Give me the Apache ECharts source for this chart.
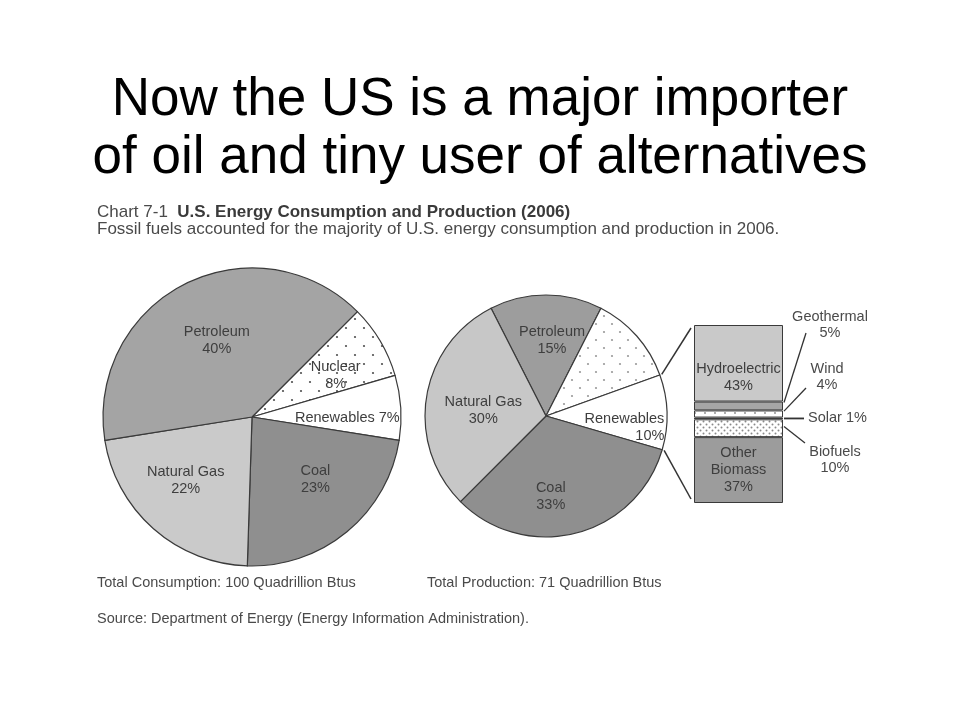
<!DOCTYPE html>
<html>
<head>
<meta charset="utf-8">
<script src="https://cdn.jsdelivr.net/npm/echarts@6/dist/echarts.min.js"></script>
<style>
html,body{margin:0;padding:0;background:#fff;}
#c{width:960px;height:720px;}
</style>
</head>
<body>
<div id="c"></div>
<script>
// ---------------- data ----------------
const consumptionNames  = ['Nuclear', 'Renewables', 'Coal', 'Natural Gas', 'Petroleum'];
const consumptionValues = [8, 7, 23, 22, 40];
const productionNames   = ['Petroleum', 'Nuclear', 'Renewables', 'Coal', 'Natural Gas'];
const productionValues  = [15, 12, 10, 33, 30];
const renewableNames    = ['Hydroelectric', 'Geothermal', 'Wind', 'Solar', 'Biofuels', 'Other Biomass'];
const renewableValues   = [43, 5, 4, 1, 10, 37];

const titleLines   = ['Now the US is a major importer', 'of oil and tiny user of alternatives'];
const chartLabel   = 'Chart 7-1';
const chartTitle   = 'U.S. Energy Consumption and Production (2006)';
const chartSubtitle = 'Fossil fuels accounted for the majority of U.S. energy consumption and production in 2006.';
const consumptionTotal = 'Total Consumption: 100 Quadrillion Btus';
const productionTotal  = 'Total Production: 71 Quadrillion Btus';
const sourceNote       = 'Source: Department of Energy (Energy Information Administration).';

// ---------------- styling ----------------
const FONT = "'Liberation Sans', Arial, Helvetica, sans-serif";
const TXT = '#3e3e3e';
const EDGE = '#3a3a3a';

function dotPattern(size, pts, r, color) {
  const c = document.createElement('canvas');
  c.width = size; c.height = size;
  const g = c.getContext('2d');
  g.fillStyle = '#ffffff';
  g.fillRect(0, 0, size, size);
  g.fillStyle = color;
  pts.forEach(function (p) { g.beginPath(); g.arc(p[0], p[1], r, 0, Math.PI * 2); g.fill(); });
  return { image: c, repeat: 'repeat' };
}
const dotsLeft  = dotPattern(18, [[4, 4], [13, 13]], 1.1, '#505050');
const dotsRight = dotPattern(16, [[4, 4], [12, 12]], 1.1, '#9a9a9a');
const dotsBio   = dotPattern(6, [[1.5, 1.5], [4.5, 4.5]], 1.0, '#8a8a8a');
const dotsWind  = dotPattern(10, [[5, 3]], 0.9, '#888888');

const consStyle = {
  'Nuclear':     { color: dotsLeft,  offset: [17, -2] },
  'Renewables':  { color: '#ffffff', offset: [18, 6], formatter: '{b} {c}%' },
  'Coal':        { color: '#8f8f8f', offset: [14, 3] },
  'Natural Gas': { color: '#cacaca', offset: [-15, 5] },
  'Petroleum':   { color: '#a4a4a4', offset: [0, -7] }
};
const prodStyle = {
  'Petroleum':   { color: '#9d9d9d', offset: [6, -12] },
  'Nuclear':     { color: dotsRight, offset: [12, 0] },
  'Renewables':  { color: '#ffffff', offset: [15, 13], formatter: '{n|{b}}\n{p|{c}%}' },
  'Coal':        { color: '#8f8f8f', offset: [-11, 19] },
  'Natural Gas': { color: '#c7c7c7', offset: [0, 4] }
};
const barStyle = {
  'Hydroelectric': { color: '#c9c9c9', label: true, formatter: '{a}\n{c}%', offset: [0, 14] },
  'Geothermal':    { color: '#a6a6a6' },
  'Wind':          { color: dotsWind },
  'Solar':         { color: '#111111' },
  'Biofuels':      { color: dotsBio },
  'Other Biomass': { color: '#9c9c9c', label: true, formatter: 'Other\nBiomass\n{c}%', offset: [0, 0] }
};
// callout label placement for thin bar segments
const callouts = {
  'Geothermal': { frac: 0.1, lx: 806, ly: 333, tx: 830, ty: 325, align: 'center', text: 'Geothermal\n5%' },
  'Wind':       { frac: 0.1, lx: 806, ly: 388, tx: 827, ty: 377, align: 'center', text: 'Wind\n4%' },
  'Solar':      { frac: 0.5, lx: 804, ly: null, tx: 808, ty: 418, align: 'left',   text: 'Solar 1%' },
  'Biofuels':   { frac: 0.4, lx: 805, ly: 443, tx: 835, ty: 460, align: 'center', text: 'Biofuels\n10%' }
};

const leftPie  = { cx: 252, cy: 417, r: 149, start: 45 };
const rightPie = { cx: 546, cy: 416, r: 121, start: 117 };
const barBox   = { left: 694, top: 325, width: 89, height: 178 };

const labelBase = { show: true, position: 'inside', fontSize: 14.5, lineHeight: 17, color: TXT, fontFamily: FONT };

function pieData(names, values, styles) {
  return names.map(function (n, i) {
    const s = styles[n];
    const lbl = { offset: s.offset };
    if (s.formatter) lbl.formatter = s.formatter;
    return { name: n, value: values[i], itemStyle: { color: s.color }, label: lbl };
  });
}

const chart = echarts.init(document.getElementById('c'));

const option = {
  animation: false,
  backgroundColor: '#ffffff',
  grid: { left: barBox.left, top: barBox.top, width: barBox.width, height: barBox.height, containLabel: false },
  xAxis: { type: 'category', data: ['Renewables'], show: false },
  yAxis: { type: 'value', min: 0, max: 100, inverse: true, show: false },
  series: [
    {
      type: 'pie', silent: true,
      center: [leftPie.cx, leftPie.cy], radius: leftPie.r,
      startAngle: leftPie.start, clockwise: true,
      avoidLabelOverlap: false,
      label: Object.assign({}, labelBase, { formatter: '{b}\n{c}%' }),
      labelLine: { show: false },
      itemStyle: { borderColor: EDGE, borderWidth: 1.2 },
      emphasis: { disabled: true },
      data: pieData(consumptionNames, consumptionValues, consStyle)
    },
    {
      type: 'pie', silent: true,
      center: [rightPie.cx, rightPie.cy], radius: rightPie.r,
      startAngle: rightPie.start, clockwise: true,
      avoidLabelOverlap: false,
      label: Object.assign({}, labelBase, {
        formatter: '{b}\n{c}%',
        rich: {
          n: { fontSize: 14.5, lineHeight: 17, color: TXT, fontFamily: FONT },
          p: { fontSize: 14.5, lineHeight: 17, color: TXT, fontFamily: FONT, align: 'right' }
        }
      }),
      labelLine: { show: false },
      itemStyle: { borderColor: EDGE, borderWidth: 1.2 },
      emphasis: { disabled: true },
      data: pieData(productionNames, productionValues, prodStyle)
    }
  ].concat(renewableNames.map(function (n, i) {
    const s = barStyle[n];
    return {
      type: 'bar', name: n, stack: 'renew', silent: true,
      barWidth: '100%',
      data: [renewableValues[i]],
      itemStyle: { color: s.color, borderColor: EDGE, borderWidth: 1 },
      label: s.label ? Object.assign({}, labelBase, { formatter: s.formatter, offset: s.offset }) : { show: false },
      emphasis: { disabled: true }
    };
  })),
  graphic: []
};
chart.setOption(option);

// ---------- annotations computed from the scales ----------
const g = [];
function txt(x, y, text, size, align, extra) {
  return Object.assign({
    type: 'text', x: x, y: y, silent: true,
    style: Object.assign({
      text: text, fontSize: size, fontFamily: FONT, fill: TXT,
      align: align, verticalAlign: 'middle'
    }, extra || {})
  });
}
// big slide title
g.push(txt(480, 100.5, titleLines[0], 53, 'center', { fill: '#000000' }));
g.push(txt(480, 158.5, titleLines[1], 53, 'center', { fill: '#000000' }));
// chart header
g.push(txt(97, 212, '{n|' + chartLabel + '}  {b|' + chartTitle + '}', 17, 'left', {
  rich: {
    n: { fontSize: 17, fontFamily: FONT, fill: '#4a4a4a', color: '#4a4a4a' },
    b: { fontSize: 17, fontFamily: FONT, fontWeight: 'bold', fill: '#3a3a3a', color: '#3a3a3a' }
  }
}));
g.push(txt(97, 229, chartSubtitle, 17, 'left', { fill: '#4a4a4a' }));
// footer
g.push(txt(97, 583, consumptionTotal, 14.5, 'left', { fill: '#4a4a4a' }));
g.push(txt(427, 583, productionTotal, 14.5, 'left', { fill: '#4a4a4a' }));
g.push(txt(97, 619, sourceNote, 14.5, 'left', { fill: '#4a4a4a' }));

// callouts of the renewable bar
const barRight = barBox.left + barBox.width;
let cum = 0;
renewableNames.forEach(function (n, i) {
  const c = callouts[n];
  const v0 = cum;
  cum += renewableValues[i];
  if (!c) return;
  const yv = chart.convertToPixel({ yAxisIndex: 0 }, v0 + renewableValues[i] * c.frac);
  const ly = c.ly == null ? yv : c.ly;
  g.push({ type: 'line', silent: true, shape: { x1: barRight + 1, y1: yv, x2: c.lx, y2: ly },
           style: { stroke: '#333333', lineWidth: n === 'Solar' ? 1.8 : 1.3 } });
  g.push(txt(c.tx, c.ty, c.text, 14.5, c.align, { lineHeight: 16.7, fill: '#4a4a4a' }));
});

// connector lines from the production "Renewables" slice to the bar
const prodTotal = productionValues.reduce(function (a, b) { return a + b; }, 0);
const iRen = productionNames.indexOf('Renewables');
const before = productionValues.slice(0, iRen).reduce(function (a, b) { return a + b; }, 0);
const a1 = (rightPie.start - before / prodTotal * 360) * Math.PI / 180;
const a2 = (rightPie.start - (before + productionValues[iRen]) / prodTotal * 360) * Math.PI / 180;
const rr = rightPie.r + 2;
const yTop = chart.convertToPixel({ yAxisIndex: 0 }, 0);
const yBot = chart.convertToPixel({ yAxisIndex: 0 }, 100);
g.push({ type: 'line', silent: true,
  shape: { x1: rightPie.cx + rr * Math.cos(a1), y1: rightPie.cy - rr * Math.sin(a1), x2: barBox.left - 3, y2: yTop + 3 },
  style: { stroke: '#333333', lineWidth: 1.5 } });
g.push({ type: 'line', silent: true,
  shape: { x1: rightPie.cx + rr * Math.cos(a2), y1: rightPie.cy - rr * Math.sin(a2), x2: barBox.left - 3, y2: yBot - 4 },
  style: { stroke: '#333333', lineWidth: 1.5 } });

chart.setOption({ graphic: g });
</script>
</body>
</html>
